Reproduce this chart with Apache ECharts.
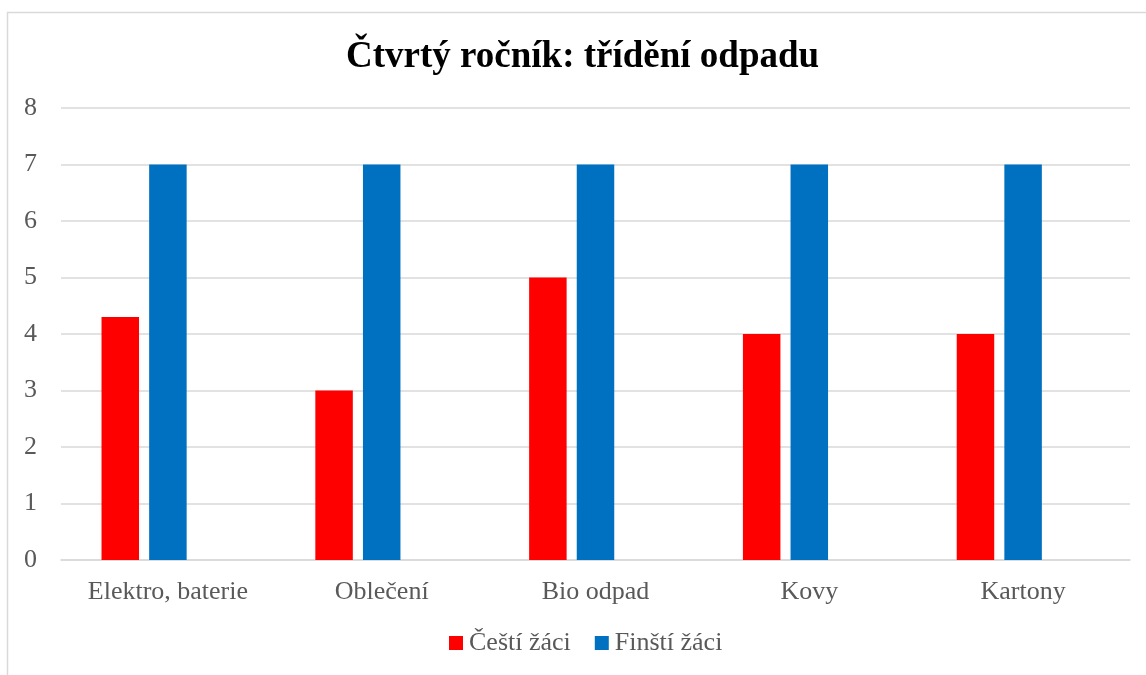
<!DOCTYPE html>
<html><head><meta charset="utf-8">
<script src="https://cdn.jsdelivr.net/npm/echarts@6/dist/echarts.min.js"></script>
<style>html,body{margin:0;padding:0;background:#fff}#c{width:1146px;height:675px}</style>
</head><body><div id="c"></div>
<script>
const categories = ['Elektro, baterie', 'Oblečení', 'Bio odpad', 'Kovy', 'Kartony'];
const czechValues = [4.3, 3, 5, 4, 4];
const finnishValues = [7, 7, 7, 7, 7];
const emptyValues = [null, null, null, null, null];
const seriesNames = ['Čeští žáci', 'Finští žáci'];

const font = '"Liberation Serif", "Times New Roman", serif';
const chart = echarts.init(document.getElementById('c'));
chart.setOption({
  animation: false,
  title: {
    text: 'Čtvrtý ročník: třídění odpadu',
    left: 341, top: 34,
    textStyle: { fontFamily: font, fontSize: 37, fontWeight: 'bold', color: '#000' }
  },
  graphic: [{
    type: 'rect', shape: { x: 7.5, y: 12.5, width: 1300, height: 800 },
    style: { fill: 'none', stroke: '#d9d9d9', lineWidth: 1.5 }, silent: true, z: -1
  }],
  legend: {
    data: seriesNames, bottom: 14, left: 444,
    icon: 'rect', itemWidth: 14, itemHeight: 14, itemGap: 24,
    textStyle: { fontFamily: font, fontSize: 26, color: '#595959', padding: [0, 0, 0, 1] }
  },
  grid: { left: 61, right: 16, top: 108, bottom: 115 },
  xAxis: {
    type: 'category', data: categories,
    axisLine: { show: true, lineStyle: { color: '#d9d9d9', width: 1.5 } },
    axisTick: { show: false },
    axisLabel: { fontFamily: font, fontSize: 26, color: '#595959', margin: 19 }
  },
  yAxis: {
    type: 'value', min: 0, max: 8, interval: 1,
    axisLine: { show: false }, axisTick: { show: false },
    splitLine: { lineStyle: { color: '#d9d9d9', width: 1.5 } },
    axisLabel: { fontFamily: font, fontSize: 26, color: '#595959', margin: 24 }
  },
  series: [
    { name: seriesNames[0], type: 'bar', data: czechValues, barWidth: 37.5, barGap: '27%', barCategoryGap: '38%', itemStyle: { color: '#ff0000' } },
    { name: seriesNames[1], type: 'bar', data: finnishValues, barWidth: 37.5, barGap: '27%', itemStyle: { color: '#0070c0' } },
    { name: '', type: 'bar', data: emptyValues, barWidth: 37.5, barGap: '27%', itemStyle: { color: '#a5a5a5' } }
  ]
});
</script></body></html>
